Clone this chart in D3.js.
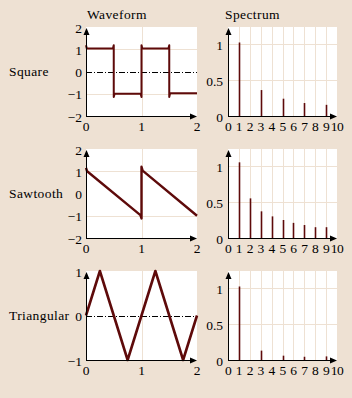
<!DOCTYPE html>
<html>
<head>
<meta charset="utf-8">
<script src="https://cdn.jsdelivr.net/npm/d3@7"></script>
<style>
  html, body { margin: 0; padding: 0; background: #eee1d3; }
  svg { display: block; }
  text { font-family: 'Liberation Serif', 'Times New Roman', 'DejaVu Serif', serif; font-size: 13.5px; fill: #000; }
  text.word { font-size: 13.5px; letter-spacing: 0.4px; }
</style>
</head>
<body>
<div id="chart"></div>
<script>
// waveform samples (overshoot at the jumps included)
const squareX = [0, 0.015, 0.485, 0.5, 0.5, 0.515, 0.985, 1, 1, 1.015, 1.485, 1.5, 1.5, 1.515, 2]
const squareY = [1.18, 1.03, 1.03, 1.18, -1.15, -1.0, -1.0, -1.15, 1.18, 1.03, 1.03, 1.18, -1.15, -0.98, -0.98]
const sawX = [0, 0.02, 0.98, 1, 1, 1.02, 2]
const sawY = [1.15, 1.0, -0.97, -1.12, 1.2, 1.03, -1.0]
const triX = [0, 0.25, 0.75, 1.25, 1.75, 2]
const triY = [0, 1, -1, 1, -1, 0]

// spectrum amplitudes for harmonics 1..9
const harmonics = [1, 2, 3, 4, 5, 6, 7, 8, 9]
const squareSpec = [1.02, 0, 0.36, 0, 0.24, 0, 0.18, 0, 0.155]
const sawSpec = [1.05, 0.55, 0.37, 0.30, 0.25, 0.21, 0.18, 0.15, 0.15]
const triSpec = [1.02, 0, 0.13, 0, 0.06, 0, 0.045, 0, 0.05]

const rowLabels = ['Square', 'Sawtooth', 'Triangular']
const waveTicksY = [[-2, -1, 0, 1, 2], [-2, -1, 0, 1, 2], [-1, 0, 1]]
const waveTicksX = [0, 1, 2]
const specTicksY = [0, 0.5, 1]
const specTicksX = [0, 1, 2, 3, 4, 5, 6, 7, 8, 9, 10]

const rows = [
    { label: rowLabels[0], x: squareX, y: squareY, spec: squareSpec, ticks: waveTicksY[0], zero: true, lw: 2 },
    { label: rowLabels[1], x: sawX, y: sawY, spec: sawSpec, ticks: waveTicksY[1], zero: false, lw: 2.4 },
    { label: rowLabels[2], x: triX, y: triY, spec: triSpec, ticks: waveTicksY[2], zero: true, lw: 2.6 }
]

const W = 352, H = 398
const beige = '#eee1d3', dark = '#5e0a0a'
const rowTop = [27, 149, 271], plotH = 89
const waveL = 86, waveW = 111
const specL = 228, specW = 109

const svg = d3.select('#chart').append('svg').attr('width', W).attr('height', H)
svg.append('rect').attr('width', W).attr('height', H).attr('fill', beige)

svg.append('text').attr('class', 'word').attr('x', 87).attr('y', 18.5).text('Waveform')
svg.append('text').attr('class', 'word').attr('x', 225).attr('y', 18.5).text('Spectrum')

const arrowUp = (g, x, y) => g.append('path')
    .attr('d', `M${x},${y} L${x - 3},${y + 7} L${x + 3},${y + 7} Z`).attr('fill', '#000')
const arrowRight = (g, x, y) => g.append('path')
    .attr('d', `M${x},${y} L${x - 7},${y - 3} L${x - 7},${y + 3} Z`).attr('fill', '#000')

rows.forEach((row, i) => {
    const top = rowTop[i], bottom = top + plotH
    const dom = d3.extent(row.ticks)

    // ---- waveform panel
    const x = d3.scaleLinear().domain([0, 2]).range([waveL, waveL + waveW])
    const y = d3.scaleLinear().domain(dom).range([bottom, top])
    const g = svg.append('g')
    g.append('rect').attr('x', waveL).attr('y', top).attr('width', waveW).attr('height', plotH).attr('fill', '#fff')
    g.selectAll('.hg').data(row.ticks.filter(t => t != dom[0] && t != 0 && t != dom[1])).enter()
        .append('line').attr('x1', waveL).attr('x2', waveL + waveW)
        .attr('y1', d => Math.round(y(d)) + 0.5).attr('y2', d => Math.round(y(d)) + 0.5)
        .attr('stroke', beige)
    g.append('line').attr('x1', Math.round(x(1)) + 0.5).attr('x2', Math.round(x(1)) + 0.5)
        .attr('y1', top).attr('y2', bottom).attr('stroke', beige)
    if (row.zero) {
        g.append('line').attr('x1', waveL).attr('x2', waveL + waveW)
            .attr('y1', Math.round(y(0)) + 0.5).attr('y2', Math.round(y(0)) + 0.5)
            .attr('stroke', '#000').attr('stroke-dasharray', '6,2,1,2')
    }
    const pts = row.x.map((v, k) => [v, row.y[k]])
    g.append('path').datum(pts)
        .attr('d', d3.line().x(d => x(d[0])).y(d => y(d[1])))
        .attr('fill', 'none').attr('stroke', dark).attr('stroke-width', row.lw)
        .attr('stroke-linejoin', 'round')

    // axes
    g.append('line').attr('x1', waveL + 0.5).attr('x2', waveL + 0.5).attr('y1', bottom).attr('y2', top + 4).attr('stroke', '#000')
    g.append('line').attr('x1', waveL).attr('x2', waveL + waveW - 4).attr('y1', bottom + 0.5).attr('y2', bottom + 0.5).attr('stroke', '#000')
    arrowUp(g, waveL + 0.5, top + 1)
    arrowRight(g, waveL + waveW, bottom + 0.5)
    g.selectAll('.yl').data(row.ticks).enter().append('text')
        .attr('x', waveL - 4).attr('y', d => y(d) + 1).attr('dy', '0.35em').attr('text-anchor', 'end')
        .text(d => d < 0 ? '\u2212' + Math.abs(d) : d)
    g.selectAll('.xl').data(waveTicksX).enter().append('text')
        .attr('x', d => x(d)).attr('y', bottom + 14.5).attr('text-anchor', 'middle').text(d => d)
    g.append('text').attr('class', 'word').attr('x', 9).attr('y', y(0)).attr('dy', '0.35em').text(row.label)

    // ---- spectrum panel
    const sx = d3.scaleLinear().domain([0, 10]).range([specL, specL + specW])
    const sy = d3.scaleLinear().domain([0, 1.235]).range([bottom, top])
    const s = svg.append('g')
    s.append('rect').attr('x', specL).attr('y', top).attr('width', specW).attr('height', plotH).attr('fill', '#fff')
    s.selectAll('.vg').data(specTicksX.slice(1, -1)).enter().append('line')
        .attr('x1', d => Math.round(sx(d)) + 0.5).attr('x2', d => Math.round(sx(d)) + 0.5)
        .attr('y1', top).attr('y2', bottom).attr('stroke', beige)
    s.selectAll('.hg').data(specTicksY.slice(1)).enter().append('line')
        .attr('x1', specL).attr('x2', specL + specW)
        .attr('y1', d => Math.round(sy(d)) + 0.5).attr('y2', d => Math.round(sy(d)) + 0.5)
        .attr('stroke', beige)
    s.selectAll('.bar').data(harmonics.map((h, k) => [h, row.spec[k]]).filter(d => d[1] > 0)).enter()
        .append('line')
        .attr('x1', d => Math.round(sx(d[0])) + 0.5).attr('x2', d => Math.round(sx(d[0])) + 0.5)
        .attr('y1', bottom).attr('y2', d => sy(d[1]))
        .attr('stroke', dark).attr('stroke-width', 1.6)
    s.append('line').attr('x1', specL + 0.5).attr('x2', specL + 0.5).attr('y1', bottom).attr('y2', top + 4).attr('stroke', '#000')
    s.append('line').attr('x1', specL).attr('x2', specL + specW - 4).attr('y1', bottom + 0.5).attr('y2', bottom + 0.5).attr('stroke', '#000')
    arrowUp(s, specL + 0.5, top + 1)
    arrowRight(s, specL + specW, bottom + 0.5)
    s.selectAll('.yl').data(specTicksY).enter().append('text')
        .attr('x', specL - 5).attr('y', d => sy(d) + 1).attr('dy', '0.35em').attr('text-anchor', 'end')
        .text(d => d)
    s.selectAll('.xl').data(specTicksX).enter().append('text')
        .attr('x', d => sx(d)).attr('y', bottom + 14.5).attr('text-anchor', 'middle')
        .style('letter-spacing', '-0.5px').text(d => d)
})
</script>
</body>
</html>
